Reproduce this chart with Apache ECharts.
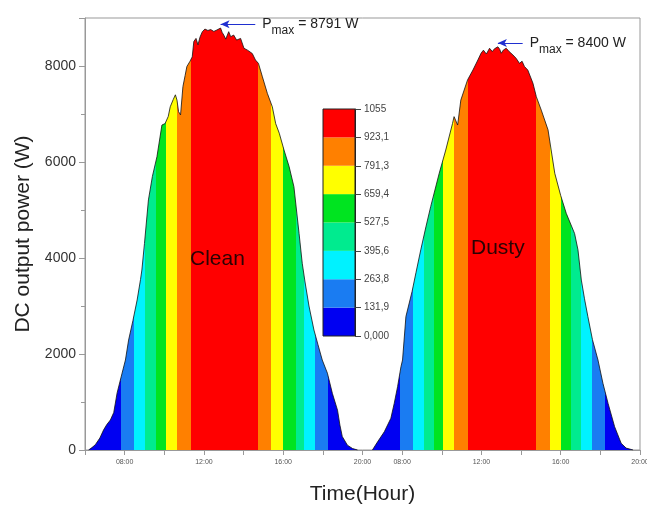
<!DOCTYPE html>
<html>
<head>
<meta charset="utf-8">
<script src="https://cdn.jsdelivr.net/npm/echarts@6/dist/echarts.min.js"></script>
<style>html,body{margin:0;background:#fff}#chart{width:647px;height:505px}</style>
</head>
<body>
<div id="chart"></div>
<script>
// hours counted from 06:00 of the first day; 14 = 20:00 day 1 = 06:00 day 2
const cleanHours = [0.18, 0.35, 0.52, 0.75, 0.94, 1.1, 1.28, 1.45, 1.62, 1.87, 2.04, 2.2, 2.42, 2.63, 2.8, 2.87, 3.0, 3.2, 3.4, 3.63, 3.88, 4.04, 4.2, 4.3, 4.45, 4.56, 4.64, 4.72, 4.82, 4.94, 5.05, 5.14, 5.3, 5.41, 5.49, 5.6, 5.7, 5.8, 5.92, 6.05, 6.2, 6.34, 6.5, 6.65, 6.84, 6.92, 7.0, 7.1, 7.25, 7.35, 7.5, 7.65, 7.85, 8.02, 8.2, 8.44, 8.6, 8.75, 8.95, 9.2, 9.45, 9.62, 9.8, 10.04, 10.3, 10.54, 10.8, 10.96, 11.1, 11.3, 11.55, 11.75, 11.97, 12.23, 12.48, 12.74, 12.86, 12.98, 13.24, 13.5, 13.75];
const cleanPower = [0, 50, 110, 250, 420, 530, 625, 780, 1190, 1600, 1875, 2290, 2700, 3125, 3550, 3750, 4300, 5210, 5700, 6110, 6770, 6800, 6950, 7150, 7300, 7400, 7290, 7050, 6980, 7570, 7800, 7990, 8100, 8190, 8510, 8575, 8440, 8600, 8715, 8770, 8740, 8760, 8720, 8750, 8791, 8700, 8645, 8560, 8715, 8610, 8645, 8540, 8575, 8370, 8330, 8260, 8125, 8055, 7775, 7430, 7150, 6800, 6600, 6250, 5900, 5485, 4510, 3890, 3500, 3000, 2500, 2200, 1875, 1600, 1180, 830, 520, 280, 100, 30, 0];
const dustyHours = [14.5, 14.76, 15.1, 15.43, 15.6, 15.77, 15.94, 16.02, 16.19, 16.5, 16.7, 16.94, 17.2, 17.44, 17.87, 18.2, 18.54, 18.62, 18.8, 18.96, 19.3, 19.57, 19.82, 19.98, 20.1, 20.25, 20.41, 20.55, 20.66, 20.83, 20.92, 21.0, 21.1, 21.25, 21.4, 21.59, 21.75, 21.92, 22.05, 22.17, 22.34, 22.6, 22.77, 23.02, 23.36, 23.7, 24.0, 24.28, 24.7, 24.87, 25.04, 25.2, 25.37, 25.6, 25.88, 26.13, 26.39, 26.72, 27.05, 27.3, 27.65];
const dustyPower = [0, 170, 380, 660, 970, 1320, 1735, 1875, 2780, 3300, 3700, 4170, 4650, 5070, 5765, 6250, 6800, 6945, 6770, 7290, 7710, 7915, 8125, 8265, 8330, 8250, 8370, 8300, 8360, 8400, 8350, 8265, 8330, 8370, 8300, 8230, 8160, 8055, 8100, 7990, 7915, 7640, 7360, 7080, 6670, 5765, 5300, 4930, 4510, 4170, 3540, 3150, 2780, 2300, 1875, 1390, 970, 485, 140, 40, 0];

// vertical colour bands (irradiance level per time slot)
const bandEdges = [0, 1.84, 2.46, 3.05, 3.56, 4.11, 4.66, 5.37, 8.73, 9.40, 10.01, 10.63, 11.05, 11.61, 12.27, 14.1,
  15.89, 16.53, 17.12, 17.62, 18.08, 18.62, 19.34, 22.77, 23.44, 23.99, 24.54, 25.04, 25.58, 26.25, 28];
const bandLevels = [0, 1, 2, 3, 4, 5, 6, 7, 6, 5, 4, 3, 2, 1, 0,
  0, 1, 2, 3, 4, 5, 6, 7, 6, 5, 4, 3, 2, 1, 0];
const levelColors = ['#0000f2', '#1a7cf2', '#00f2ff', '#00eb8f', '#00e420', '#ffff00', '#ff8000', '#ff0000'];
const levelTicks = [0, 131.9, 263.8, 395.6, 527.5, 659.4, 791.3, 923.1, 1055];
const levelTickLabels = ['0,000', '131,9', '263,8', '395,6', '527,5', '659,4', '791,3', '923,1', '1055'];

const xLabelHours = [2, 6, 10, 14, 16, 20, 24, 28];
const xLabelTexts = ['08:00', '12:00', '16:00', '20:00', '08:00', '12:00', '16:00', '20:00'];

const pmaxHours = [6.84, 20.83];
const pmaxValues = [8791, 8400];

const levelStep = 1055 / 8;

const pieces = [];
for (let i = 0; i < bandLevels.length; i++) {
  pieces.push({ gte: bandEdges[i], lt: bandEdges[i + 1], color: levelColors[bandLevels[i]] });
}

function pmaxLine(i) {
  const y = pmaxValues[i] + 80;
  return {
    silent: true,
    animation: false,
    lineStyle: { color: '#1f2fd0', width: 1, type: 'solid' },
    symbolSize: [6, 9],
    label: {
      show: true,
      position: 'start',
      distance: 7,
      formatter: '{p|P}{s|max}{p| = ' + pmaxValues[i] + ' W}',
      rich: {
        p: { fontSize: 14, color: '#222', fontFamily: 'Liberation Sans' },
        s: { fontSize: 12, color: '#222', fontFamily: 'Liberation Sans', padding: [13, 0, 0, 0] }
      }
    },
    data: [[
      { coord: [pmaxHours[i] + 1.75 - i * 0.5, y], symbol: 'none' },
      { coord: [pmaxHours[i], y], symbol: 'arrow' }
    ]]
  };
}

function daySeries(hours, power, i) {
  return {
    type: 'line',
    data: hours.map((h, k) => [h, power[k]]),
    showSymbol: false,
    lineStyle: { color: '#111', width: 0.8 },
    areaStyle: { opacity: 1 },
    markLine: pmaxLine(i),
    z: 2
  };
}

const chart = echarts.init(document.getElementById('chart'));
chart.setOption({
  animation: false,
  textStyle: { fontFamily: 'Liberation Sans' },
  grid: [
    { left: 85, right: 7, top: 18, bottom: 55, show: true, borderColor: '#999', borderWidth: 1, outerBoundsMode: 'none' },
    { left: 323, top: 109, width: 32, height: 227, show: true, borderColor: '#222', borderWidth: 1, z: 5, outerBoundsMode: 'none' }
  ],
  xAxis: [
    {
      type: 'value', min: 0, max: 28, interval: 2,
      name: 'Time(Hour)', nameLocation: 'middle', nameGap: 34,
      nameTextStyle: { fontSize: 21, color: '#222' },
      axisLine: { lineStyle: { color: '#999' } },
      axisTick: { length: 5, lineStyle: { color: '#999' } },
      splitLine: { show: false },
      axisLabel: {
        fontSize: 7, color: '#555', margin: 9,
        formatter: v => { const k = xLabelHours.indexOf(v); return k < 0 ? '' : xLabelTexts[k]; }
      }
    },
    { gridIndex: 1, type: 'category', data: ['level'], show: false }
  ],
  yAxis: [
    {
      type: 'value', min: 0, max: 9000, interval: 2000,
      name: 'DC output power (W)', nameLocation: 'middle', nameGap: 49,
      nameTextStyle: { fontSize: 21, color: '#222' },
      axisLine: { show: true, lineStyle: { color: '#999' } },
      axisTick: { show: true, length: 6, lineStyle: { color: '#999' } },
      minorTick: { show: true, splitNumber: 2, length: 4, lineStyle: { color: '#999' } },
      splitLine: { show: false },
      axisLabel: { fontSize: 14, color: '#333', margin: 9, showMaxLabel: false, formatter: v => String(v) }
    },
    {
      gridIndex: 1, type: 'value', position: 'right', min: 0, max: 1055, interval: levelStep,
      axisLine: { show: true, lineStyle: { color: '#222' } },
      axisTick: { show: true, length: 6, lineStyle: { color: '#444' } },
      splitLine: { show: false },
      axisLabel: {
        fontSize: 10, color: '#444', margin: 9,
        formatter: v => levelTickLabels[Math.round(v / levelStep)]
      }
    }
  ],
  visualMap: {
    type: 'piecewise', show: false, dimension: 0, seriesIndex: [0, 1], pieces: pieces
  },
  series: [
    daySeries(cleanHours, cleanPower, 0),
    daySeries(dustyHours, dustyPower, 1)
  ].concat(levelColors.map((c, i) => ({
    type: 'bar', xAxisIndex: 1, yAxisIndex: 1, stack: 'bar', barWidth: '100%',
    data: [levelTicks[i + 1] - levelTicks[i]],
    itemStyle: { color: c }, silent: true, z: 4
  }))),
  graphic: [
    { type: 'text', left: 190, top: 249, z: 10, style: { text: 'Clean', fontSize: 21, fill: '#2a0303', fontFamily: 'Liberation Sans' } },
    { type: 'text', left: 471, top: 238, z: 10, style: { text: 'Dusty', fontSize: 21, fill: '#2a0303', fontFamily: 'Liberation Sans' } }
  ]
});
</script>
</body>
</html>
